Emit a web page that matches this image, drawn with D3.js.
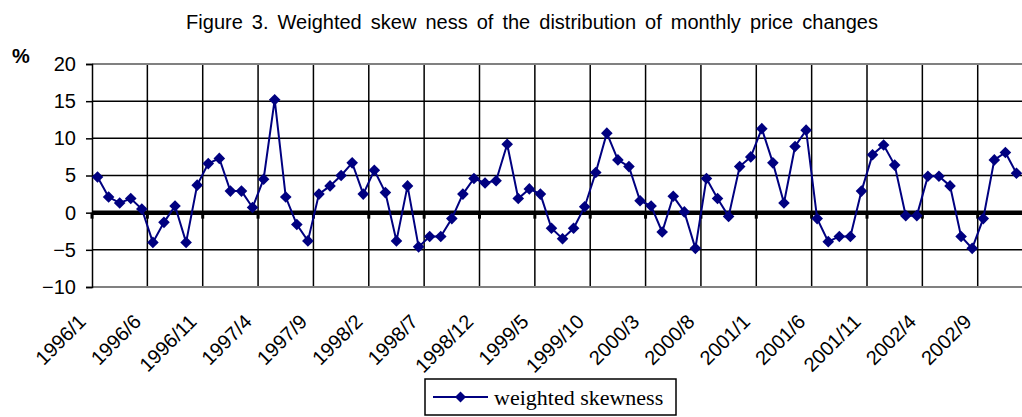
<!DOCTYPE html>
<html>
<head>
<meta charset="utf-8">
<script src="https://cdn.jsdelivr.net/npm/d3@7/dist/d3.min.js"></script>
<style>
  html, body { margin: 0; padding: 0; background: #fff; }
  svg { display: block; }
</style>
</head>
<body>
<svg id="chart" width="1022" height="417"></svg>
<script>
const title = "Figure 3. Weighted skew ness of the distribution of monthly price changes";
const unitLabel = "%";
const seriesName = "weighted skewness";

const categories = [
  "1996/1","1996/2","1996/3","1996/4","1996/5","1996/6","1996/7","1996/8","1996/9","1996/10","1996/11","1996/12",
  "1997/1","1997/2","1997/3","1997/4","1997/5","1997/6","1997/7","1997/8","1997/9","1997/10","1997/11","1997/12",
  "1998/1","1998/2","1998/3","1998/4","1998/5","1998/6","1998/7","1998/8","1998/9","1998/10","1998/11","1998/12",
  "1999/1","1999/2","1999/3","1999/4","1999/5","1999/6","1999/7","1999/8","1999/9","1999/10","1999/11","1999/12",
  "2000/1","2000/2","2000/3","2000/4","2000/5","2000/6","2000/7","2000/8","2000/9","2000/10","2000/11","2000/12",
  "2001/1","2001/2","2001/3","2001/4","2001/5","2001/6","2001/7","2001/8","2001/9","2001/10","2001/11","2001/12",
  "2002/1","2002/2","2002/3","2002/4","2002/5","2002/6","2002/7","2002/8","2002/9","2002/10","2002/11","2002/12"
];

const values = [
  4.8, 2.1, 1.3, 1.9, 0.5, -4.0, -1.3, 0.9, -4.0, 3.7, 6.6, 7.3,
  2.9, 2.9, 0.7, 4.5, 15.2, 2.1, -1.6, -3.8, 2.5, 3.6, 5.0, 6.7,
  2.5, 5.7, 2.7, -3.8, 3.6, -4.6, -3.2, -3.2, -0.8, 2.5, 4.6, 4.0,
  4.3, 9.2, 1.9, 3.2, 2.5, -2.1, -3.5, -2.1, 0.8, 5.4, 10.7, 7.1,
  6.2, 1.6, 0.9, -2.6, 2.2, 0.1, -4.8, 4.6, 1.9, -0.5, 6.2, 7.5,
  11.3, 6.7, 1.3, 8.9, 11.1, -0.8, -3.9, -3.2, -3.2, 2.9, 7.8, 9.1,
  6.4, -0.4, -0.4, 4.9, 4.9, 3.6, -3.2, -4.8, -0.8, 7.1, 8.1, 5.3
];

const yTicks = [-10, -5, 0, 5, 10, 15, 20];
const xLabels = ["1996/1","1996/6","1996/11","1997/4","1997/9","1998/2","1998/7","1998/12","1999/5",
                 "1999/10","2000/3","2000/8","2001/1","2001/6","2001/11","2002/4","2002/9"];

(function () {
const data = categories.map((c, i) => ({ c, v: values[i] }));

const svg = d3.select("#chart");
const pLeft = 92, pRight = 1022, pTop = 64, pBottom = 287;

const x = d3.scaleBand().domain(categories).range([pLeft, pRight]).paddingInner(0).paddingOuter(0);
const y = d3.scaleLinear().domain([-10, 20]).range([pBottom, pTop]);
const cx = c => x(c) + x.bandwidth() / 2;

// Title
svg.append("text")
  .attr("x", 532).attr("y", 29)
  .attr("text-anchor", "middle")
  .style("font-family", "Arial, 'Liberation Sans', sans-serif")
  .style("font-size", "20px")
  .style("word-spacing", "3.5px")
  .attr("fill", "#000")
  .text(title);

// Unit label
svg.append("text")
  .attr("x", 12).attr("y", 63)
  .style("font-family", "Arial, 'Liberation Sans', sans-serif")
  .style("font-size", "20px")
  .style("font-weight", "bold")
  .text(unitLabel);

// Horizontal gridlines
svg.append("g").selectAll("line")
  .data(yTicks.filter(t => t !== 20 && t !== -10 && t !== 0))
  .join("line")
  .attr("x1", pLeft).attr("x2", pRight)
  .attr("y1", d => y(d)).attr("y2", d => y(d))
  .attr("stroke", "#000").attr("stroke-width", 1.5);

// Vertical gridlines at every 5th category boundary
const boundaryIdx = d3.range(5, categories.length, 5);
svg.append("g").selectAll("line")
  .data(boundaryIdx)
  .join("line")
  .attr("x1", i => x(categories[i])).attr("x2", i => x(categories[i]))
  .attr("y1", pTop).attr("y2", pBottom)
  .attr("stroke", "#000").attr("stroke-width", 1.5);

// Plot border (top/bottom grey)
svg.append("line").attr("x1", pLeft).attr("x2", pRight).attr("y1", y(20)).attr("y2", y(20))
  .attr("stroke", "#808080").attr("stroke-width", 2);
svg.append("line").attr("x1", pLeft).attr("x2", pRight).attr("y1", y(-10)).attr("y2", y(-10))
  .attr("stroke", "#808080").attr("stroke-width", 2);

// Y axis
const yAxis = d3.axisLeft(y).tickValues(yTicks).tickSize(6).tickPadding(10).tickFormat(d3.format("d"));
const gy = svg.append("g").attr("transform", `translate(${pLeft},0)`).call(yAxis);
gy.select(".domain").attr("stroke", "#000").attr("stroke-width", 1.5);
gy.selectAll(".tick line").attr("stroke", "#000").attr("stroke-width", 1.5);
gy.selectAll(".tick text")
  .style("font-family", "Arial, 'Liberation Sans', sans-serif")
  .style("font-size", "20px")
  .attr("fill", "#000");

// Zero line
svg.append("line").attr("x1", pLeft).attr("x2", pRight).attr("y1", y(0)).attr("y2", y(0))
  .attr("stroke", "#000").attr("stroke-width", 4.5);

// Tick marks on zero axis
svg.append("g").selectAll("line")
  .data([0].concat(boundaryIdx))
  .join("line")
  .attr("x1", i => x(categories[i])).attr("x2", i => x(categories[i]))
  .attr("y1", y(0)).attr("y2", y(0) + 6)
  .attr("stroke", "#000").attr("stroke-width", 3);

// X labels (rotated)
svg.append("g").selectAll("text")
  .data(xLabels)
  .join("text")
  .attr("text-anchor", "end")
  .attr("transform", d => `translate(${cx(d) - 10.5},${323}) rotate(-45)`)
  .style("font-family", "Arial, 'Liberation Sans', sans-serif")
  .style("font-size", "20px")
  .attr("fill", "#000")
  .text(d => d);

// Series line
const line = d3.line().x(d => cx(d.c)).y(d => y(d.v));
svg.append("path").datum(data)
  .attr("d", line)
  .attr("fill", "none")
  .attr("stroke", "#000080")
  .attr("stroke-width", 2);

// Markers
const diamond = (px, py, r) => `M${px},${py - r}L${px + r},${py}L${px},${py + r}L${px - r},${py}Z`;
svg.append("g").selectAll("path")
  .data(data)
  .join("path")
  .attr("d", d => diamond(cx(d.c), y(d.v), 5.8))
  .attr("fill", "#000080");

// Legend
const lg = svg.append("g");
lg.append("rect").attr("x", 425).attr("y", 379).attr("width", 251).attr("height", 36)
  .attr("fill", "#fff").attr("stroke", "#000").attr("stroke-width", 1.5);
lg.append("line").attr("x1", 433).attr("x2", 488).attr("y1", 397).attr("y2", 397)
  .attr("stroke", "#000080").attr("stroke-width", 2);
lg.append("path").attr("d", diamond(460.5, 397, 5.5)).attr("fill", "#000080");
lg.append("text").attr("x", 494).attr("y", 405)
  .style("font-family", "'Times New Roman', 'Liberation Serif', serif")
  .style("font-size", "22px")
  .attr("fill", "#000")
  .text(seriesName);
})();
</script>
</body>
</html>
